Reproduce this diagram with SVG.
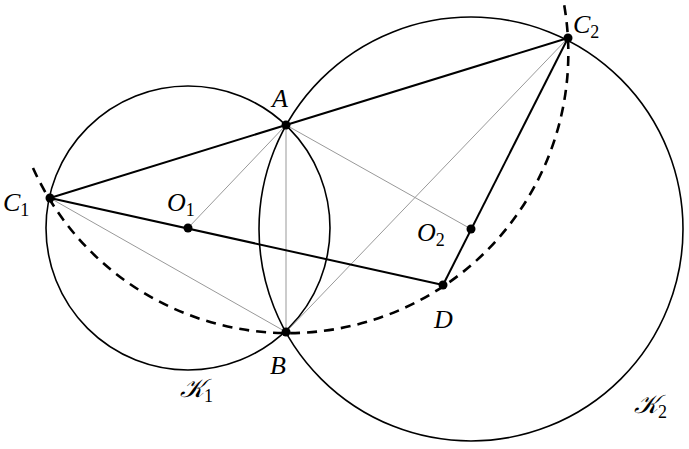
<svg xmlns="http://www.w3.org/2000/svg" width="689" height="449" viewBox="0 0 689 449">
<style>
.c{fill:none;stroke:#000;stroke-width:1.6}
.t{stroke:#000;stroke-width:2}
.g{stroke:#999;stroke-width:1}
.d{fill:none;stroke:#000;stroke-width:2.6;stroke-dasharray:10,7}
.p{fill:#000}
text{font-family:"Liberation Serif",serif;font-style:italic;font-size:26px;fill:#000}
.s{font-size:18px;font-style:normal}
</style>
<rect width="689" height="449" fill="#fff"/>
<g id="circles">
<circle id="K1" class="c" cx="188" cy="228" r="142"/>
<circle id="K2" class="c" cx="471" cy="229" r="212"/>
<path id="arc" class="d" d="M33,168 A280,280 0 0 0 564,4"/>
</g>
<g id="connectors">
<line class="g" x1="286" y1="125" x2="188" y2="228"/>
<line class="g" x1="286" y1="125" x2="286" y2="332"/>
<line class="g" x1="286" y1="125" x2="471" y2="229"/>
<line class="g" x1="50" y1="198" x2="286" y2="332"/>
<line class="g" x1="286" y1="332" x2="568" y2="38"/>
<line class="t" x1="50" y1="198" x2="286" y2="125"/>
<line class="t" x1="286" y1="125" x2="568" y2="38"/>
<line class="t" x1="50" y1="198" x2="443" y2="285"/>
<line class="t" x1="568" y1="38" x2="443" y2="285"/>
</g>
<g id="A"><circle class="p" cx="286" cy="125" r="4.5"/><text x="272" y="107">A</text></g>
<g id="B"><circle class="p" cx="286" cy="332" r="4.5"/><text x="270" y="374">B</text></g>
<g id="C1"><circle class="p" cx="50" cy="198" r="4.5"/><text x="3" y="211">C<tspan class="s" dy="5">1</tspan></text></g>
<g id="C2"><circle class="p" cx="568" cy="38" r="4.5"/><text x="573" y="33">C<tspan class="s" dy="5">2</tspan></text></g>
<g id="O1"><circle class="p" cx="188" cy="228" r="4.5"/><text x="167" y="211">O<tspan class="s" dy="5">1</tspan></text></g>
<g id="O2"><circle class="p" cx="471" cy="229" r="4.5"/><text x="417" y="241">O<tspan class="s" dy="5">2</tspan></text></g>
<g id="D"><circle class="p" cx="443" cy="285" r="4.5"/><text x="434" y="328">D</text></g>
<g id="labelK1"><text x="180" y="397">𝒦<tspan class="s" dy="5">1</tspan></text></g>
<g id="labelK2"><text x="634" y="413">𝒦<tspan class="s" dy="5">2</tspan></text></g>
</svg>
